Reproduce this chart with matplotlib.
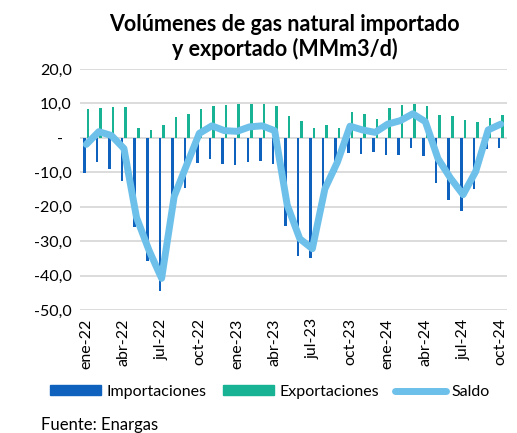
import numpy as np
import matplotlib.pyplot as plt
from matplotlib.lines import Line2D
from matplotlib.patches import Patch

plt.rcParams['font.family'] = ['Lato', 'DejaVu Sans']

meses = ['ene', 'feb', 'mar', 'abr', 'may', 'jun', 'jul', 'ago', 'sep', 'oct', 'nov', 'dic']
labels = [f'{m}-{a}' for a in ['22', '23', '24'] for m in meses][:34]

importaciones = [-10.3, -7.0, -8.9, -12.5, -26.0, -35.7, -44.6, -22.0, -14.5, -7.4,
                 -6.0, -7.6, -7.9, -7.0, -6.8, -7.6, -25.5, -34.4, -34.9, -18.0,
                 -9.8, -4.3, -4.7, -4.1, -4.9, -4.9, -3.0, -5.2, -13.1, -18.1,
                 -21.2, -14.8, -3.3, -2.9]
exportaciones = [8.5, 8.7, 9.0, 9.0, 3.0, 2.3, 3.7, 6.1, 7.0, 8.5,
                 9.2, 9.6, 9.8, 9.9, 9.7, 9.4, 6.4, 4.8, 2.8, 3.7,
                 2.8, 7.5, 6.8, 5.6, 8.7, 9.6, 9.7, 9.4, 6.6, 6.4,
                 5.1, 4.7, 5.7, 6.7]
saldo = [-1.9, 1.8, 0.7, -3.1, -23.1, -32.7, -40.8, -17.0, -7.8, 1.3,
         3.5, 2.1, 1.9, 3.2, 3.5, 2.1, -19.5, -29.3, -32.2, -14.8,
         -7.0, 3.4, 2.3, 1.6, 4.0, 5.0, 7.0, 4.7, -6.0, -11.7,
         -16.5, -9.8, 2.3, 4.0]

c_imp = '#0E62BE'
c_exp = '#17B394'
c_sal = '#6DC0EA'

fig = plt.figure(figsize=(5.17, 4.33), dpi=100)
ax = fig.add_axes([0.1547, 0.284, 0.826, 0.5566])

x = np.arange(len(labels))
w = 0.2
ax.bar(x - 0.14, importaciones, width=w, color=c_imp, zorder=2)
ax.bar(x + 0.14, exportaciones, width=w, color=c_exp, zorder=2)
ax.plot(x, saldo, color=c_sal, linewidth=5, solid_joinstyle='round',
        solid_capstyle='round', zorder=3)

ax.set_xlim(-0.5, len(labels) - 0.5)
ax.set_ylim(-50, 20)
yt = np.arange(-50, 21, 10)
ax.set_yticks(yt)
ax.set_yticklabels(['-  ' if v == 0 else f'{v:.1f}'.replace('.', ',') for v in yt],
                   fontsize=11.5)
ax.set_xticks(x[::3])
ax.set_xticklabels(labels[::3], rotation=90, fontsize=11.5)
ax.tick_params(length=0, pad=6)
ax.grid(axis='y', color='#D9D9D9', linewidth=1.3, zorder=0)
for s in ax.spines.values():
    s.set_visible(False)

fig.text(0.55, 0.968, 'Volúmenes de gas natural importado\ny exportado (MMm3/d)',
         ha='center', va='top', fontsize=15.5, fontweight='bold', linespacing=1.15)

handles = [Patch(color=c_imp), Patch(color=c_exp),
           Line2D([0], [0], color=c_sal, linewidth=5, solid_capstyle='round')]
fig.legend(handles, ['Importaciones', 'Exportaciones', 'Saldo'],
           loc='center', bbox_to_anchor=(0.522, 0.095), ncol=3, frameon=False,
           fontsize=11.5, handlelength=3.2, handleheight=0.6, handletextpad=0.35,
           columnspacing=1.0)

fig.text(0.079, 0.018, 'Fuente: Enargas', fontsize=12, ha='left', va='center')

fig.savefig('out.png', dpi=100)
